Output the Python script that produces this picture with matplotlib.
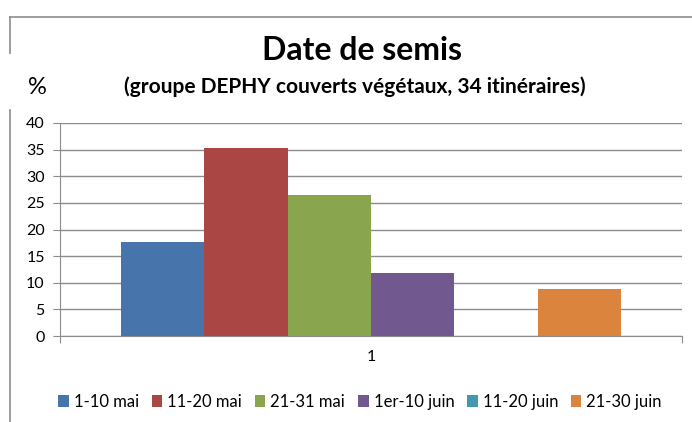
import matplotlib.pyplot as plt
from matplotlib.lines import Line2D
from matplotlib.patches import Patch

# data (percent of 34 itineraries)
series = ["1-10 mai", "11-20 mai", "21-31 mai", "1er-10 juin", "11-20 juin", "21-30 juin"]
values = [17.6, 35.3, 26.5, 11.8, 0.0, 8.8]
colors = ["#4674AB", "#AA4643", "#89A54E", "#71588F", "#4198AF", "#DB843D"]
category = "1"
yticks = [0, 5, 10, 15, 20, 25, 30, 35, 40]

plt.rcParams['font.family'] = ['Lato', 'DejaVu Sans']

W, H = 692, 422
fig = plt.figure(figsize=(W / 100, H / 100), dpi=100)
ax = fig.add_axes([60 / W, (H - 336) / H, 622 / W, 213 / H])

# bars of one category, side by side
group = 500 / 622
bw = group / len(series)
for i, (name, v, c) in enumerate(zip(series, values, colors)):
    x = -group / 2 + bw * (i + 0.5)
    ax.bar(x, v, width=bw, color=c, label=name, zorder=2)

ax.set_xlim(-0.5, 0.5)
ax.set_ylim(0, 40)
ax.set_yticks(yticks)
ax.yaxis.grid(True, color="#8c8c8c", linewidth=1, zorder=0)
ax.set_axisbelow(True)
ax.set_xticks([-0.5, 0.5])
ax.set_xticklabels(["", ""])
ax.tick_params(axis="x", length=5, color="#8c8c8c", direction="out")
ax.tick_params(axis="y", length=5, color="#8c8c8c", direction="out", labelsize=11.5, pad=6)
for s in ["top", "right"]:
    ax.spines[s].set_visible(False)
for s in ["left", "bottom"]:
    ax.spines[s].set_color("#8c8c8c")
ax.text(0, -4, category, ha="center", va="center", fontsize=11.5, transform=ax.transData)

# chart border (partly hidden by the % label)
gray = "#8c8c8c"
fig.add_artist(Line2D([10 / W, 1], [1 - 17 / H, 1 - 17 / H], color=gray, lw=1.2))
fig.add_artist(Line2D([10 / W, 10 / W], [1 - 17 / H, 1 - 53 / H], color=gray, lw=1.2))
fig.add_artist(Line2D([10 / W, 10 / W], [1 - 110 / H, 0], color=gray, lw=1.2))

fig.text(362 / W, 1 - 50 / H, "Date de semis", ha="center", va="center",
         fontsize=23, fontweight="bold")
fig.text(355 / W, 1 - 87 / H, "(groupe DEPHY couverts végétaux, 34 itinéraires)",
         ha="center", va="center", fontsize=15, fontweight="bold")
fig.text(37 / W, 1 - 87 / H, "%", ha="center", va="center", fontsize=17)

handles = [Patch(facecolor=c, edgecolor="none") for c in colors]
fig.legend(handles, series, loc="center", bbox_to_anchor=(360 / W, 1 - 402 / H),
           ncol=6, frameon=False, fontsize=12, handlelength=0.65, handleheight=0.7,
           handletextpad=0.3, columnspacing=0.75)

fig.savefig("out.png", dpi=100)
